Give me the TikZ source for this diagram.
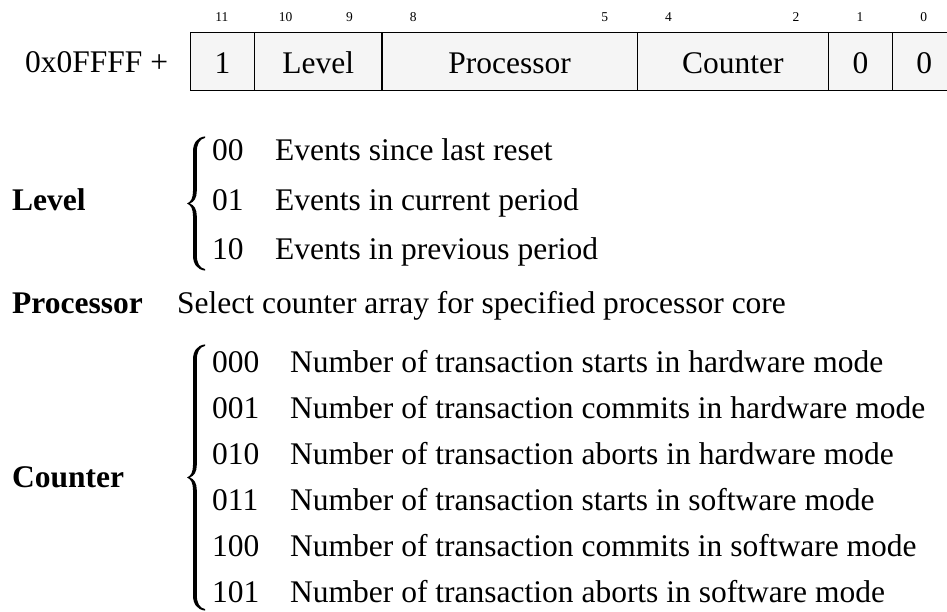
\documentclass[tikz,border=0pt]{standalone}
\usepackage{fontspec}
\setmainfont{Liberation Serif}
\definecolor{cellgray}{HTML}{F5F5F5}
\tikzset{
  body/.style={font=\fontsize{31.5}{36}\selectfont, inner sep=0pt, anchor=base west},
  head/.style={body, font=\fontsize{31.5}{36}\selectfont\bfseries},
  bitno/.style={font=\fontsize{13.5}{15}\selectfont, inner sep=0pt, anchor=base},
  cell/.style={draw, line width=1.3pt, fill=cellgray, minimum height=58pt,
    inner sep=0pt, anchor=north west, text height=23pt, text depth=0pt,
    font=\fontsize{31.5}{36}\selectfont}
}
% Filled curly brace with its tips at x=205, spanning from #1 down to #2
\newcommand{\curlybrace}[2]{%
  \pgfmathsetmacro{\ym}{(#1+#2)/2}%
  \fill (205,#1-0.6) .. controls (197,#1+0.4) and (193,#1+6) .. (193,#1+15)
    -- (193,\ym-12.5) .. controls (193,\ym-5.5) and (191,\ym-1.5) .. (187,\ym)
    .. controls (191,\ym+1.5) and (193,\ym+5.5) .. (193,\ym+12.5)
    -- (193,#2-15) .. controls (193,#2-6) and (197,#2-0.4) .. (205,#2+0.6)
    -- (205,#2-0.9) .. controls (199.5,#2-2) and (196.8,#2-7) .. (196.8,#2-15)
    -- (196.8,\ym+12.5) .. controls (196.8,\ym+5.5) and (194,\ym+1.5) .. (189.8,\ym)
    .. controls (194,\ym-1.5) and (196.8,\ym-5.5) .. (196.8,\ym-12.5)
    -- (196.8,#1+15) .. controls (196.8,#1+7) and (199.5,#1+2) .. (205,#1+0.9)
    -- cycle;}
\begin{document}
\begin{tikzpicture}[x=1pt,y=-1pt]
\clip (0,0) rectangle (947,612);
\fill[white] (0,0) rectangle (947,612);

% address prefix
\node[body] (base) at (25,72.5) {0x0FFFF +};

% register cells, 63.8pt per bit starting at bit 11
\node[cell, minimum width=63.8pt]  (c11)   at (190,32)   {1};
\node[cell, minimum width=127.6pt] (clev)  at (253.8,32) {Level};
\node[cell, minimum width=255.2pt] (cproc) at (381.4,32) {Processor};
\node[cell, minimum width=191.4pt] (ccnt)  at (636.6,32) {Counter};
\node[cell, minimum width=63.8pt]  (c1)    at (828,32)   {0};
\node[cell, minimum width=63.8pt]  (c0)    at (891.8,32) {0};

% bit numbers
\foreach \b/\x in {11/221.9, 10/285.7, 9/349.5, 8/413.3, 5/604.7, 4/668.5, 2/796.1, 1/859.9, 0/923.7}
  \node[bitno] (b\b) at (\x,22) {\b};

% Level field
\node[head] (hlev) at (12,211) {Level};
\curlybrace{137}{270}
\node[body] (l00) at (212,161)   {00};
\node[body] (l01) at (212,210.5) {01};
\node[body] (l10) at (212,260)   {10};
\node[body] (d00) at (275,161)   {Events since last reset};
\node[body] (d01) at (275,210.5) {Events in current period};
\node[body] (d10) at (275,260)   {Events in previous period};

% Processor field
\node[head] (hproc) at (12,313) {Processor};
\node[body] (dproc) at (177,313) {Select counter array for specified processor core};

% Counter field
\node[head] (hcnt) at (12,487) {Counter};
\curlybrace{345}{610}
\foreach \k/\code/\txt in {0/000/starts in hardware mode, 1/001/commits in hardware mode,
    2/010/aborts in hardware mode, 3/011/starts in software mode,
    4/100/commits in software mode, 5/101/aborts in software mode} {
  \node[body] (k\code) at (212,372+46*\k) {\code};
  \node[body] (t\code) at (290,372+46*\k) {Number of transaction \txt};
}
\end{tikzpicture}
\end{document}
